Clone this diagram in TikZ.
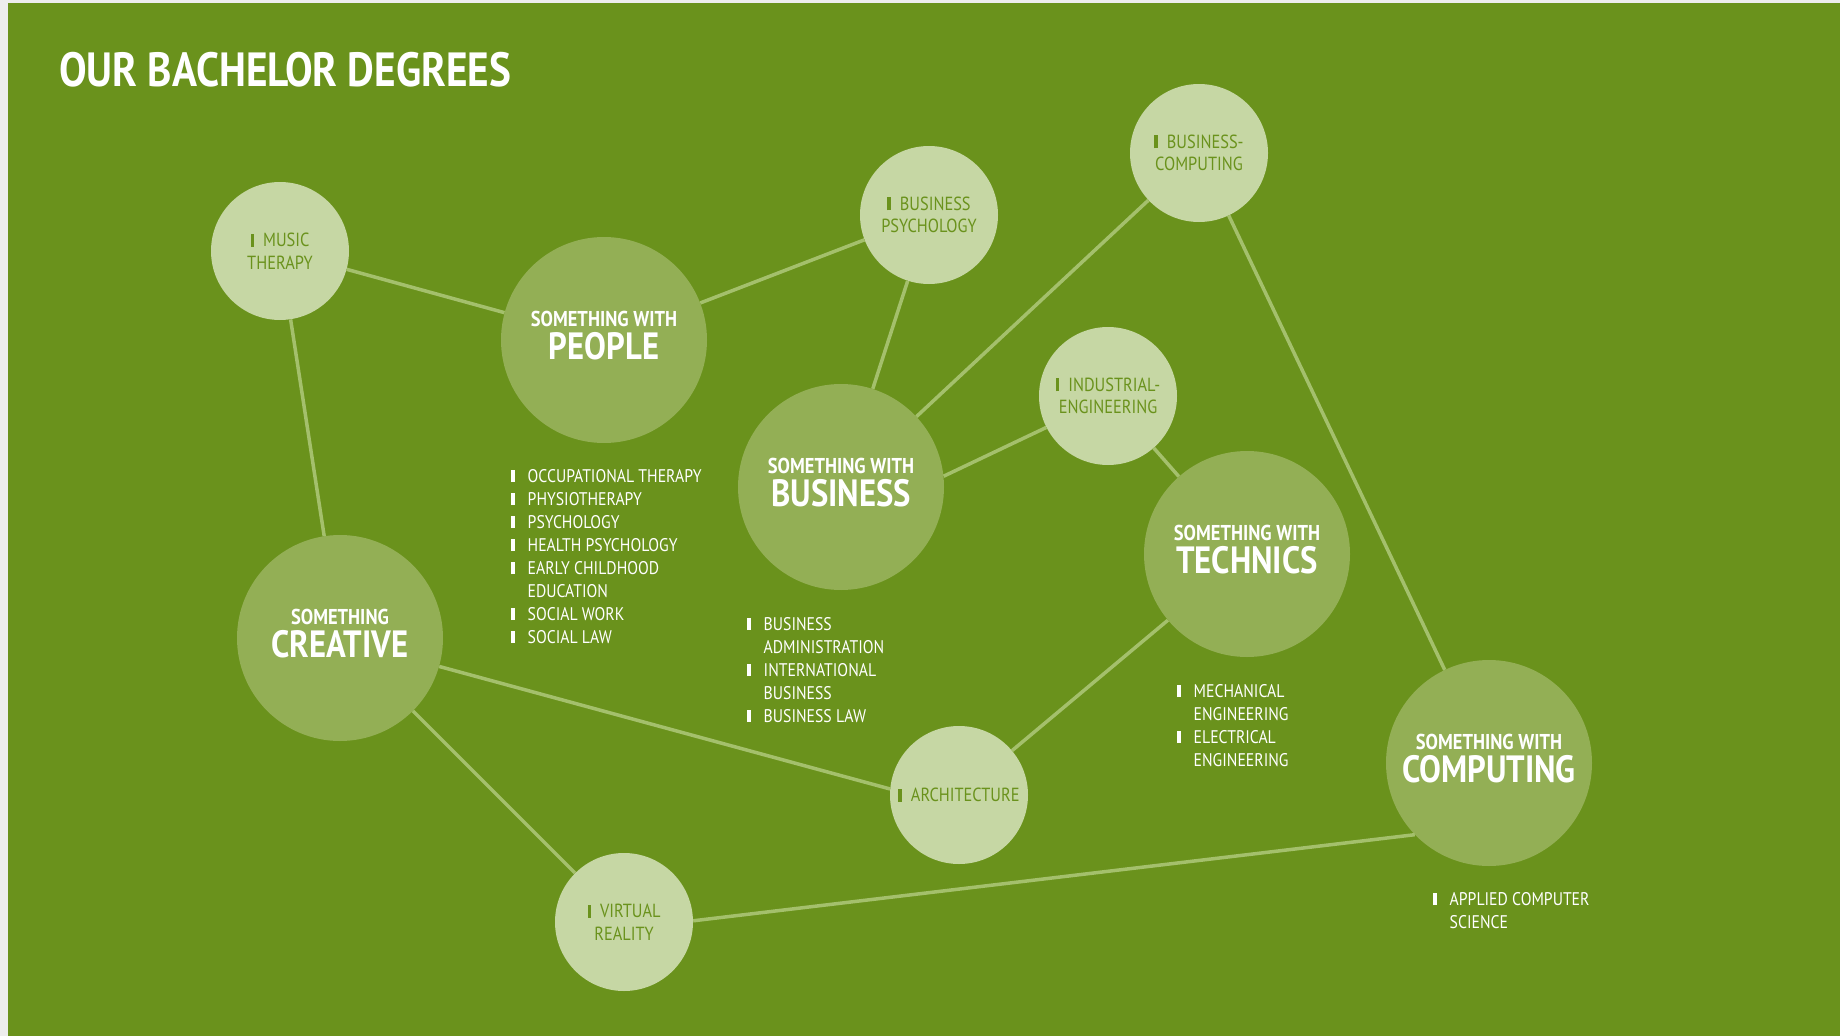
\documentclass[tikz,border=0pt]{standalone}
\usepackage{fontspec}
\setmainfont{PT Sans}[FakeStretch=0.86]
\usepackage{tikz}
\definecolor{bggreen}{HTML}{6A921C}
\definecolor{paper}{HTML}{EDEDED}
\definecolor{lightc}{HTML}{C6D7A4}
\definecolor{midc}{HTML}{93AF55}
\definecolor{linec}{HTML}{A4C06C}
\definecolor{darktxt}{HTML}{6A921C}
\tikzset{smallc/.style={circle, fill=lightc, minimum size=138pt, inner sep=0pt,
    text=darktxt, align=center, font=\fontsize{19}{22.5}\selectfont}}
\tikzset{bigc/.style={circle, fill=midc, minimum size=206pt, inner sep=0pt,
    text=white, align=center, font=\bfseries\fontsize{21.5}{24}\selectfont}}
\tikzset{courses/.style={anchor=north west, inner sep=0pt, text=white, align=left,
    font=\fontsize{18.3}{23}\selectfont}}
\tikzset{link/.style={draw=linec, line width=3.5pt}}
\newcommand{\tick}{\rule{3.5pt}{12.5pt}\hspace{13pt}}
\newcommand{\ctick}{\rule{3.5pt}{13pt}\hspace{9pt}}
\newcommand{\gap}{\hspace{16.5pt}}
\newcommand{\bigword}[1]{\\[5pt]{\fontsize{38}{38}\selectfont #1\rule[-9pt]{0pt}{9pt}}}

\begin{document}
\begin{tikzpicture}[x=1pt,y=-1pt]
\useasboundingbox (0,0) rectangle (1840,1036);
\fill[paper] (0,0) rectangle (1840,1036);
\fill[bggreen] (8,3) rectangle (1840,1036);

\node[anchor=west, inner sep=0pt, text=white, font=\bfseries\fontsize{48}{48}\selectfont] (title) at (59,70) {OUR BACHELOR DEGREES};

% circles
\node[smallc] (music) at (280,251) {\ctick MUSIC\\THERAPY};
\node[smallc] (bpsych) at (929,215) {\ctick BUSINESS\\PSYCHOLOGY};
\node[smallc] (bcomp) at (1199,153) {\ctick BUSINESS-\\COMPUTING};
\node[smallc] (indeng) at (1108,396) {\ctick INDUSTRIAL-\\ENGINEERING};
\node[smallc] (arch) at (959,795) {\ctick ARCHITECTURE};
\node[smallc] (vr) at (624,922) {\ctick VIRTUAL\\REALITY};

\node[bigc] (people) at (604,340) {SOMETHING WITH\bigword{PEOPLE}};
\node[bigc] (business) at (841,487) {SOMETHING WITH\bigword{BUSINESS}};
\node[bigc] (technics) at (1247,554) {SOMETHING WITH\bigword{TECHNICS}};
\node[bigc] (creative) at (340,638) {SOMETHING\bigword{CREATIVE}};
\node[bigc] (computing) at (1489,763) {SOMETHING WITH\bigword{COMPUTING}};

% connections
\draw[link] (music) -- (people);
\draw[link] (music) -- (creative);
\draw[link] (people) -- (bpsych);
\draw[link] (bpsych) -- (business);
\draw[link] (business) -- (bcomp);
\draw[link] (business.6) -- (indeng.207);
\draw[link] (indeng) -- (technics);
\draw[link] (technics) -- (arch);
\draw[link] (creative.-16) -- (arch.175);
\draw[link] (creative) -- (vr);
\draw[link] (vr.1) -- (computing.224);
\draw[link] (bcomp) -- (computing);

% degree lists
\node[courses] (peoplelist) at (511,469) {\tick OCCUPATIONAL THERAPY\\\tick PHYSIOTHERAPY\\\tick PSYCHOLOGY\\\tick HEALTH PSYCHOLOGY\\\tick EARLY CHILDHOOD\\\gap EDUCATION\\\tick SOCIAL WORK\\\tick SOCIAL LAW};
\node[courses] (businesslist) at (747,617) {\tick BUSINESS\\\gap ADMINISTRATION\\\tick INTERNATIONAL\\\gap BUSINESS\\\tick BUSINESS LAW};
\node[courses] (technicslist) at (1177,684) {\tick MECHANICAL\\\gap ENGINEERING\\\tick ELECTRICAL\\\gap ENGINEERING};
\node[courses] (computinglist) at (1433,892) {\tick APPLIED COMPUTER\\\gap SCIENCE};
\end{tikzpicture}
\end{document}
